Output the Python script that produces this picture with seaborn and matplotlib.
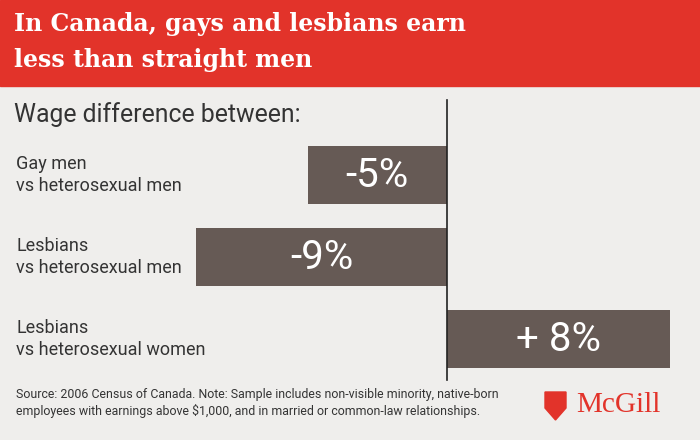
import matplotlib.pyplot as plt
import matplotlib.patches as mpatches
import seaborn as sns
import pandas as pd

categories = ["Gay men\nvs heterosexual men",
              "Lesbians\nvs heterosexual men",
              "Lesbians\nvs heterosexual women"]
values = [-5, -9, 8]
value_labels = ["-5%", "-9%", "+ 8%"]

BG = "#efeeec"
RED = "#e2332a"
BAR = "#665a55"
W, H = 700, 440

df = pd.DataFrame({"cat": categories, "val": values})

fig = plt.figure(figsize=(7, 4.4), dpi=100, facecolor=BG)

# header band
fig.patches.append(mpatches.Rectangle((0, 1 - 86 / H), 1, 86 / H, transform=fig.transFigure,
                                      color=RED, zorder=0))
fig.text(14 / W, 1 - 24 / H, "In Canada, gays and lesbians earn", color="white",
         fontsize=17, fontweight="bold", family="DejaVu Serif", va="center")
fig.text(14 / W, 1 - 60 / H, "less than straight men", color="white",
         fontsize=17, fontweight="bold", family="DejaVu Serif", va="center")
fig.text(14 / W, 1 - 115 / H, "Wage difference between:", color="#333333",
         fontsize=17.8, family="Roboto", va="center")

# bars axis: px 134..380 vertically, whole width horizontally
ax = fig.add_axes([0, 1 - 380 / H, 1, 246 / H])
ax.set_facecolor("none")
sns.barplot(data=df, x="val", y="cat", orient="h", color=BAR, width=0.7,
            saturation=1, ax=ax)
ax.set_xlim(-447 / 27.85, 253 / 27.85)
ax.set_ylim(2.5, -0.5)
for s in ax.spines.values():
    s.set_visible(False)
ax.set_xticks([])
ax.set_yticks([])
ax.set_xlabel("")
ax.set_ylabel("")

# zero line
fig.add_artist(plt.Line2D([447 / W, 447 / W], [1 - 100 / H, 1 - 380 / H],
                          color="#222222", lw=1.2))

for i, (v, lab, cat) in enumerate(zip(values, value_labels, categories)):
    ax.text(v / 2, i, lab, color="white", fontsize=29, family="Roboto",
            ha="center", va="center")
    ax.text(-447 / 27.85 + 16 / 27.85, i, cat, color="#333333", fontsize=13,
            family="Roboto", ha="left", va="center", linespacing=1.3)

fig.text(16 / W, 1 - 403 / H,
         "Source: 2006 Census of Canada. Note: Sample includes non-visible minority, native-born\n"
         "employees with earnings above $1,000, and in married or common-law relationships.",
         color="#333333", fontsize=8.9, family="Roboto", va="center", linespacing=1.25)

# McGill logo
shield = mpatches.Polygon([(545 / W, 1 - 392 / H), (566 / W, 1 - 392 / H),
                           (566 / W, 1 - 408 / H), (555.5 / W, 1 - 420 / H),
                           (545 / W, 1 - 408 / H)],
                          closed=True, transform=fig.transFigure, color=RED)
fig.patches.append(shield)
fig.text(576 / W, 1 - 405 / H, "McGill", color=RED, fontsize=21,
         family="Liberation Serif", va="center")

fig.savefig("out.png", dpi=100, facecolor=BG)
